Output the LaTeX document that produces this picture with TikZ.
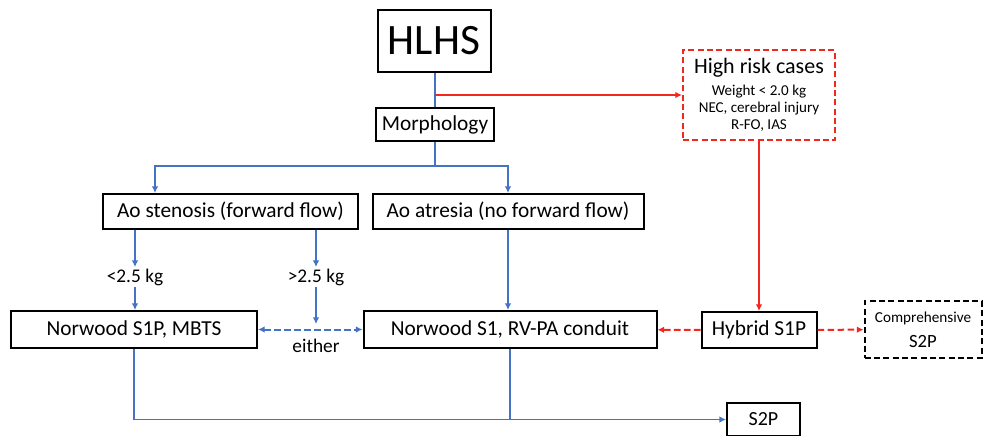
\documentclass[tikz,border=0pt]{standalone}
\usepackage{fontspec}
\setmainfont{Carlito}
\usepackage{xcolor}
\usepackage{tikz}
\usetikzlibrary{arrows.meta}
\definecolor{flowblue}{RGB}{68,114,196}
\definecolor{riskred}{RGB}{240,40,30}

\begin{document}
\begin{tikzpicture}[x=0.75pt,y=-0.75pt,
    box/.style={rectangle,draw=black,line width=1.5pt,fill=white,align=center,inner sep=2pt,font=\fontsize{16}{19}\selectfont},
    riskbox/.style={rectangle,draw=riskred,line width=1.5pt,dash pattern=on 4.5pt off 2.5pt,fill=white,align=center,inner sep=2pt,font=\fontsize{11.3}{12.75}\selectfont},
    optbox/.style={rectangle,draw=black,line width=1.5pt,dash pattern=on 4.5pt off 2.5pt,fill=white,align=center,inner sep=2pt,font=\fontsize{11.4}{19}\selectfont},
    lbl/.style={inner sep=1pt,font=\fontsize{14.5}{17}\selectfont},
    line/.style={draw=flowblue,line width=1.4pt},
    arrow/.style={-{Latex[length=5pt,width=5pt]},draw=flowblue,line width=1.4pt},
    dbl/.style={{Latex[length=5pt,width=5pt]}-{Latex[length=5pt,width=5pt]},draw=flowblue,line width=1.5pt,dash pattern=on 5pt off 2.5pt},
    redarrow/.style={-{Latex[length=5pt,width=5pt]},draw=riskred,line width=1.4pt},
    reddash/.style={-{Latex[length=5pt,width=5pt]},draw=riskred,line width=1.5pt,dash pattern=on 5pt off 2.5pt}
  ]
    \useasboundingbox (0,0) rectangle (983,436);
    \node[box,minimum width=84.75pt,minimum height=46.5pt,font=\fontsize{32.5}{36}\selectfont] (hlhs) at (434,41) {HLHS};
    \node[box,minimum width=88.5pt,minimum height=24.75pt] (morph) at (435,124.5) {Morphology};
    \node[riskbox,minimum width=114pt,minimum height=67.5pt] (risk) at (759,95)
      {{\fontsize{16.5}{19}\selectfont High risk cases}\\[3.5pt]
       Weight < 2.0 kg\\
       NEC, cerebral injury\\
       R-FO, IAS};
    \node[box,minimum width=191.25pt,minimum height=26.25pt] (sten) at (230.5,211.5) {Ao stenosis (forward flow)};
    \node[box,minimum width=203.25pt,minimum height=26.25pt] (atr) at (508,211.5) {Ao atresia (no forward flow)};
    \node[lbl] (light) at (135,277) {<2.5 kg};
    \node[lbl] (heavy) at (316,277) {>2.5 kg};
    \node[box,minimum width=184.5pt,minimum height=27.75pt] (nwdbt) at (134,329.5) {Norwood S1P, MBTS};
    \node[box,minimum width=219.75pt,minimum height=27.75pt] (nwdrv) at (510,329.5) {Norwood S1, RV-PA conduit};
    \node[lbl] (either) at (316,346) {either};
    \node[box,minimum width=86.25pt,minimum height=27pt] (hybrid) at (759,330) {Hybrid S1P};
    \node[optbox,minimum width=87.75pt,minimum height=42.75pt] (comp) at (923,329.5)
      {Comprehensive\\{\fontsize{14}{19}\selectfont S2P}};
    \node[box,minimum width=54.75pt,minimum height=24.75pt,font=\fontsize{15}{18}\selectfont] (stage2) at (763.5,419.5) {S2P};

    % top part
    \coordinate (hr) at (435,95);
    \coordinate (split) at (435,166);
    \coordinate (sl) at (155,166);
    \draw[line] (hlhs.south -| morph) -- (morph);
    \draw[redarrow] (hr) -- (risk.west);
    \draw[line] (morph) -- (split);
    \draw[arrow] (split) -| (sl |- sten.north);
    \draw[arrow] (split) -| (atr.north);

    % weight split
    \draw[arrow] (light |- sten.south) -- (light);
    \draw[arrow] (light) -- (light |- nwdbt.north);
    \draw[arrow] (heavy |- sten.south) -- (heavy);
    \coordinate (either top) at (316,324);
    \draw[arrow] (heavy) -- (either top);
    \draw[dbl] (nwdbt) -- (nwdrv);
    \draw[arrow] (atr.south) -- (atr.south |- nwdrv.north);

    % hybrid route
    \draw[redarrow] (risk) -- (risk |- hybrid.north);
    \draw[reddash] (hybrid) -- (nwdrv);
    \draw[reddash] (hybrid) -- (comp);

    % to stage 2
    \draw[arrow] (nwdbt) |- (stage2);
    \draw[line] (nwdrv) -- (nwdrv |- stage2.west);
  \end{tikzpicture}
\end{document}
